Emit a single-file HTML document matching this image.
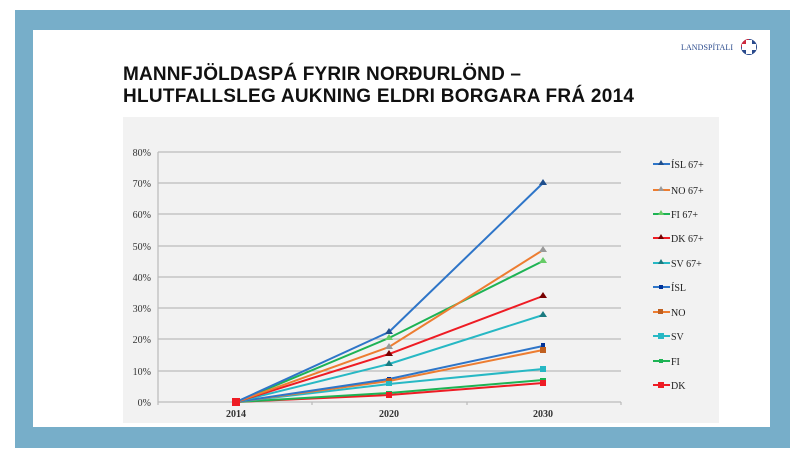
<!DOCTYPE html>
<html><head><meta charset="utf-8"><style>body{margin:0;background:#fff}svg{display:block}</style></head>
<body>
<svg width="800" height="462" viewBox="0 0 800 462" xmlns="http://www.w3.org/2000/svg">
<rect x="0" y="0" width="800" height="462" fill="#fff"/>
<rect x="15" y="10" width="775" height="438" fill="#77aec9"/>
<rect x="33" y="30" width="737" height="397" fill="#fff"/>
<text x="123" y="80" font-family="Liberation Sans, sans-serif" font-weight="bold" font-size="19" textLength="398" fill="#111">MANNFJÖLDASPÁ FYRIR NORÐURLÖND –</text>
<text x="123" y="102" font-family="Liberation Sans, sans-serif" font-weight="bold" font-size="19" textLength="511" fill="#111">HLUTFALLSLEG AUKNING ELDRI BORGARA FRÁ 2014</text>
<text x="681" y="50" font-family="Liberation Serif, serif" font-size="8" fill="#2a4a8c" textLength="52">LANDSPÍTALI</text>
<circle cx="749" cy="47" r="8" fill="#2a4a8c"/>
<path d="M741 47 A8 8 0 0 1 749 39 L749 47Z" fill="#d0283c"/>
<rect x="746" y="40" width="6" height="14" fill="#fff"/><rect x="742" y="44" width="14" height="6" fill="#fff"/>
<rect x="123" y="117" width="596" height="306" fill="#f2f2f2"/>
<g stroke="#bbb" stroke-width="1.2">
<line x1="158" y1="152" x2="621" y2="152"/><line x1="158" y1="183" x2="621" y2="183"/>
<line x1="158" y1="214" x2="621" y2="214"/><line x1="158" y1="246" x2="621" y2="246"/>
<line x1="158" y1="277" x2="621" y2="277"/><line x1="158" y1="308" x2="621" y2="308"/>
<line x1="158" y1="339" x2="621" y2="339"/><line x1="158" y1="371" x2="621" y2="371"/>
<line x1="158" y1="402" x2="621" y2="402"/><line x1="158" y1="152" x2="158" y2="405"/>
<line x1="312" y1="402" x2="312" y2="405"/><line x1="467" y1="402" x2="467" y2="405"/><line x1="621" y1="402" x2="621" y2="405"/>
</g>
<g font-family="Liberation Serif, serif" font-size="10" fill="#333" text-anchor="end">
<text x="151" y="156">80%</text><text x="151" y="187">70%</text><text x="151" y="218">60%</text><text x="151" y="250">50%</text><text x="151" y="281">40%</text><text x="151" y="312">30%</text><text x="151" y="343">20%</text><text x="151" y="375">10%</text><text x="151" y="406">0%</text>
</g>
<g font-family="Liberation Serif, serif" font-size="10" font-weight="bold" fill="#333" text-anchor="middle">
<text x="236" y="417">2014</text><text x="389" y="417">2020</text><text x="543" y="417">2030</text>
</g>
<g fill="none" stroke-width="2">
<polyline stroke="#ee1c24" points="236,402 389,395 543,383"/>
<polyline stroke="#1db354" points="236,402 389,393 543,380"/>
<polyline stroke="#27b8c4" points="236,402 389,384 543,369"/>
<polyline stroke="#ed7d31" points="236,402 389,381 543,350"/>
<polyline stroke="#2e75c8" points="236,402 389,379 543,346"/>
<polyline stroke="#27b8c4" points="236,402 389,364 543,315"/>
<polyline stroke="#ee1c24" points="236,402 389,354 543,296"/>
<polyline stroke="#1db354" points="236,402 389,338 543,261"/>
<polyline stroke="#ed7d31" points="236,402 389,347 543,250"/>
<polyline stroke="#2e75c8" points="236,402 389,332 543,183"/>
</g>
<g>
<path d="M389 328l-4 6h8z M543 179l-4 6h8z" fill="#1f4e8c"/>
<path d="M389 343l-4 6h8z M543 246l-4 6h8z" fill="#999"/>
<path d="M389 334l-4 6h8z M543 257l-4 6h8z" fill="#6c6"/>
<path d="M389 350l-4 6h8z M543 292l-4 6h8z" fill="#700"/>
<path d="M389 360l-4 6h8z M543 311l-4 6h8z" fill="#1a7a80"/>
<rect x="387" y="377" width="4" height="4" fill="#003399"/><rect x="541" y="343" width="4" height="5" fill="#003399"/>
<rect x="386" y="378" width="6" height="5" fill="#c06020"/><rect x="540" y="347" width="6" height="6" fill="#c06020"/>
<rect x="386" y="381" width="6" height="5" fill="#27b8c4"/><rect x="540" y="366" width="6" height="6" fill="#27b8c4"/>
<rect x="386" y="391" width="6" height="4" fill="#1db354"/><rect x="540" y="378" width="6" height="4" fill="#1db354"/>
<rect x="386" y="392" width="6" height="6" fill="#ee1c24"/><rect x="540" y="380" width="6" height="6" fill="#ee1c24"/>
<rect x="232" y="398" width="8" height="8" fill="#ee1c24"/>
</g>
<g stroke-width="2">
<line x1="653" y1="164" x2="670" y2="164" stroke="#2e75c8"/><path d="M661 160l-3 5h6z" fill="#1f4e8c"/>
<line x1="653" y1="190" x2="670" y2="190" stroke="#ed7d31"/><path d="M661 186l-3 5h6z" fill="#999"/>
<line x1="653" y1="214" x2="670" y2="214" stroke="#1db354"/><path d="M661 210l-3 5h6z" fill="#6c6"/>
<line x1="653" y1="238" x2="670" y2="238" stroke="#ee1c24"/><path d="M661 234l-3 5h6z" fill="#700"/>
<line x1="653" y1="263" x2="670" y2="263" stroke="#27b8c4"/><path d="M661 259l-3 5h6z" fill="#1a7a80"/>
<line x1="653" y1="287" x2="670" y2="287" stroke="#2e75c8"/><rect x="659" y="285" width="4" height="4" fill="#003399"/>
<line x1="653" y1="312" x2="670" y2="312" stroke="#ed7d31"/><rect x="658" y="309" width="5" height="5" fill="#c06020"/>
<line x1="653" y1="336" x2="670" y2="336" stroke="#27b8c4"/><rect x="658" y="333" width="6" height="6" fill="#27b8c4"/>
<line x1="653" y1="361" x2="670" y2="361" stroke="#1db354"/><rect x="659" y="359" width="4" height="4" fill="#1db354"/>
<line x1="653" y1="385" x2="670" y2="385" stroke="#ee1c24"/><rect x="658" y="382" width="6" height="6" fill="#ee1c24"/>
</g>
<g font-family="Liberation Serif, serif" font-size="10" fill="#222">
<text x="671" y="168">ÍSL 67+</text><text x="671" y="194">NO 67+</text><text x="671" y="218">FI 67+</text><text x="671" y="242">DK 67+</text><text x="671" y="267">SV 67+</text><text x="671" y="291">ÍSL</text><text x="671" y="316">NO</text><text x="671" y="340">SV</text><text x="671" y="365">FI</text><text x="671" y="389">DK</text>
</g>
</svg>
</body></html>
